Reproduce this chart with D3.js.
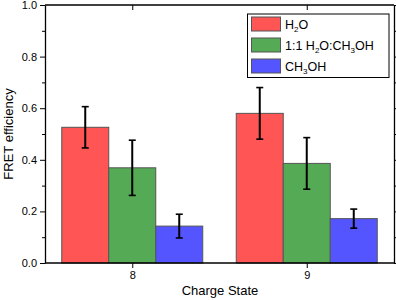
<!DOCTYPE html>
<html><head><meta charset="utf-8">
<script src="https://cdn.jsdelivr.net/npm/d3@7"></script>
<style>body{margin:0;background:#fff}svg{display:block;font-family:"Liberation Sans",Arial,sans-serif}</style>
</head><body>
<svg id="c" width="396" height="300"></svg>
<script>
const categories = ["8", "9"];
const seriesNames = ["H2O", "1:1 H2O:CH3OH", "CH3OH"];
const h2o = [0.526, 0.580];
const h2oErr = [0.080, 0.100];
const mix = [0.369, 0.386];
const mixErr = [0.107, 0.100];
const meoh = [0.143, 0.172];
const meohErr = [0.046, 0.037];
const yTicks = [0.0, 0.2, 0.4, 0.6, 0.8, 1.0];
const colors = ["#ff5555", "#55aa55", "#5555ff"];

const series = [
  {name: seriesNames[0], vals: h2o, errs: h2oErr},
  {name: seriesNames[1], vals: mix, errs: mixErr},
  {name: seriesNames[2], vals: meoh, errs: meohErr}
];

const svg = d3.select("#c");
const L = 45, R = 394, T = 5, B = 263;
const y = d3.scaleLinear().domain([0, 1]).range([B, T]);
const x = d3.scaleBand().domain(categories).range([L, R]).paddingInner(0).paddingOuter(0);
const barW = 47;

const g = svg.append("g");
series.forEach((s, si) => {
  categories.forEach((c, ci) => {
    const cx = x(c) + x.bandwidth() / 2;
    const x0 = cx + (si - 1.5) * barW;
    g.append("rect")
      .attr("x", x0).attr("y", y(s.vals[ci]))
      .attr("width", barW).attr("height", y(0) - y(s.vals[ci]))
      .attr("fill", colors[si]).attr("stroke", "#555").attr("stroke-width", 1);
  });
});
series.forEach((s, si) => {
  categories.forEach((c, ci) => {
    const cx = x(c) + x.bandwidth() / 2 + (si - 1) * barW;
    const hi = y(s.vals[ci] + s.errs[ci]), lo = y(s.vals[ci] - s.errs[ci]);
    g.append("line").attr("x1", cx).attr("x2", cx).attr("y1", hi).attr("y2", lo).attr("stroke", "#000").attr("stroke-width", 2);
    [hi, lo].forEach(v => g.append("line").attr("x1", cx - 3.5).attr("x2", cx + 3.5).attr("y1", v).attr("y2", v).attr("stroke", "#000").attr("stroke-width", 1.6));
  });
});

const fmt = d3.format(".1f");
const minor = d3.range(0.1, 1.0, 0.2);
// left axis
const la = svg.append("g").attr("transform", `translate(${L},0)`)
  .call(d3.axisLeft(y).tickValues(yTicks).tickFormat(fmt).tickSizeOuter(0).tickSizeInner(5).tickPadding(3));
la.selectAll("text").attr("font-size", 11).attr("fill", "#000").style("font-family", "Liberation Sans, Arial, sans-serif");
svg.append("g").attr("transform", `translate(${L},0)`)
  .call(d3.axisLeft(y).tickValues(minor).tickFormat("").tickSizeOuter(0).tickSizeInner(3))
  .select(".domain").remove();
// right axis
svg.append("g").attr("transform", `translate(${R},0)`)
  .call(d3.axisLeft(y).tickValues(yTicks).tickFormat("").tickSizeOuter(0).tickSizeInner(-5));
svg.append("g").attr("transform", `translate(${R},0)`)
  .call(d3.axisLeft(y).tickValues(minor).tickFormat("").tickSizeOuter(0).tickSizeInner(-3))
  .select(".domain").remove();
// bottom axis
const xc = d3.scalePoint().domain(categories).range([x(categories[0]) + x.bandwidth()/2, x(categories[1]) + x.bandwidth()/2]);
const ba = svg.append("g").attr("transform", `translate(0,${B})`)
  .call(d3.axisBottom(xc).tickSizeOuter(0).tickSizeInner(5).tickPadding(3));
ba.select(".domain").attr("d", `M${L},0H${R}`);
ba.selectAll("text").attr("font-size", 11).attr("fill", "#000").style("font-family", "Liberation Sans, Arial, sans-serif");
// top axis
const ta = svg.append("g").attr("transform", `translate(0,${T})`)
  .call(d3.axisTop(xc).tickFormat("").tickSizeOuter(0).tickSizeInner(-5));
ta.select(".domain").attr("d", `M${L},0H${R}`);
svg.selectAll(".domain").attr("stroke-width", 1.3);

// axis titles
svg.append("text").attr("x", 220).attr("y", 295).attr("text-anchor", "middle").attr("font-size", 13).text("Charge State");
svg.append("text").attr("transform", `translate(13,${(T+B)/2}) rotate(-90)`).attr("text-anchor", "middle").attr("font-size", 13).text("FRET efficiency");

// legend
const lg = svg.append("g");
lg.append("rect").attr("x", 247.5).attr("y", 14).attr("width", 141.5).attr("height", 63.5).attr("fill", "#fff").attr("stroke", "#000").attr("stroke-width", 1);
const labels = [
  [["H", ""], ["2", "sub"], ["O", ""]],
  [["1:1 H", ""], ["2", "sub"], ["O:CH", ""], ["3", "sub"], ["OH", ""]],
  [["CH", ""], ["3", "sub"], ["OH", ""]]
];
series.forEach((s, i) => {
  const yy = 17 + i * 21;
  lg.append("rect").attr("x", 251.5).attr("y", yy).attr("width", 29).attr("height", 14).attr("fill", colors[i]).attr("stroke", "#555").attr("stroke-width", 1);
  const t = lg.append("text").attr("x", 285).attr("y", yy + 12).attr("font-size", 12.5);
  labels[i].forEach(([txt, kind]) => {
    const ts = t.append("tspan").text(txt);
    if (kind === "sub") ts.attr("font-size", 8).attr("dy", 3);
    else ts.attr("dy", t.selectAll("tspan").size() > 1 ? -3 : 0);
  });
});
</script>
</body></html>
